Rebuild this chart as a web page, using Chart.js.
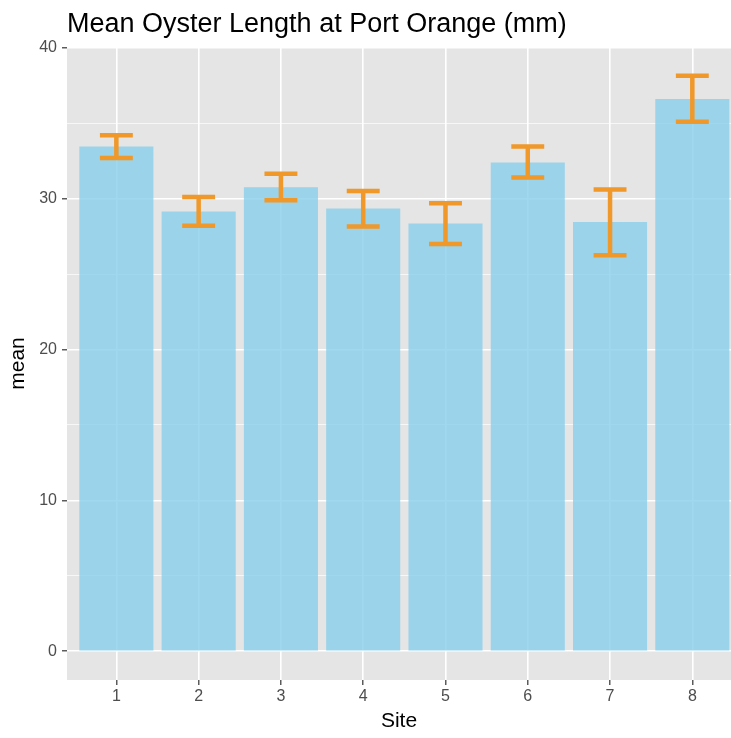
<!DOCTYPE html>
<html>
<head>
<meta charset="utf-8">
<script src="https://cdn.jsdelivr.net/npm/chart.js@4"></script>
<style>
	body { margin: 0; background: #fff; }
	#wrap { width: 731px; height: 738px; }
</style>
</head>
<body>
<div id="wrap"><canvas id="myChart"></canvas></div>
<script>
const sites = [1, 2, 3, 4, 5, 6, 7, 8];
const means = [33.45, 29.15, 30.75, 29.35, 28.35, 32.4, 28.45, 36.6];
const lower = [32.7, 28.2, 29.9, 28.15, 27.0, 31.4, 26.25, 35.1];
const upper = [34.2, 30.1, 31.65, 30.5, 29.7, 33.45, 30.6, 38.15];
const yTicks = [0, 5, 10, 15, 20, 25, 30, 35, 40];
const titleText = "Mean Oyster Length at Port Orange (mm)";

const font = "'Liberation Sans', Arial, sans-serif";
const ctx = document.getElementById("myChart");

// grey panel behind grid and bars, ggplot style
const panelBg = {
	id: "panelBg",
	beforeDraw: (chart) => {
		const a = chart.chartArea;
		const c = chart.ctx;
		c.save();
		c.fillStyle = "#E5E5E5";
		c.fillRect(a.left, a.top, a.right - a.left, a.bottom - a.top);
		c.restore();
	},
};

const errorBars = {
	id: "errorBars",
	afterDatasetsDraw: (chart) => {
		const x = chart.scales.x;
		const y = chart.scales.y;
		const c = chart.ctx;
		const half = x.getPixelForValue(1.2) - x.getPixelForValue(1);
		c.save();
		c.strokeStyle = "#F0982A";
		c.lineWidth = 4.5;
		sites.forEach((s, i) => {
			const px = x.getPixelForValue(s);
			const lo = y.getPixelForValue(lower[i]);
			const hi = y.getPixelForValue(upper[i]);
			c.beginPath();
			c.moveTo(px, lo);
			c.lineTo(px, hi);
			c.moveTo(px - half, lo);
			c.lineTo(px + half, lo);
			c.moveTo(px - half, hi);
			c.lineTo(px + half, hi);
			c.stroke();
		});
		c.restore();
	},
};

const plotTitle = {
	id: "plotTitle",
	afterDraw: (chart) => {
		const c = chart.ctx;
		c.save();
		c.fillStyle = "#000";
		c.font = "27px " + font;
		c.textBaseline = "alphabetic";
		c.textAlign = "left";
		c.fillText(titleText, chart.chartArea.left, 32);
		c.restore();
	},
};

const myChart = new Chart(ctx, {
	type: "bar",
	data: {
		datasets: [
			{
				label: "mean",
				data: sites.map((s, i) => ({ x: s, y: means[i] })),
				backgroundColor: "rgba(135, 206, 235, 0.8)",
				borderWidth: 0,
				barPercentage: 0.9,
				categoryPercentage: 1,
			},
		],
	},
	options: {
		responsive: true,
		maintainAspectRatio: false,
		animation: false,
		layout: { padding: { top: 47, left: 0, right: 0, bottom: 0 } },
		plugins: {
			legend: { display: false },
			tooltip: { enabled: false },
		},
		scales: {
			x: {
				type: "linear",
				min: 0.4,
				max: 8.47,
				offset: false,
				afterBuildTicks: (scale) => {
					scale.ticks = sites.map((v) => ({ value: v }));
				},
				afterFit: (scale) => {
					scale.height = 58;
				},
				border: { display: false },
				grid: {
					offset: false,
					color: "#FFFFFF",
					lineWidth: 1.6,
					drawTicks: true,
					tickLength: 5,
					tickColor: "#333333",
					tickWidth: 1.2,
				},
				ticks: {
					color: "#4D4D4D",
					font: { family: font, size: 16 },
					padding: 2,
					maxRotation: 0,
					callback: (v) => v,
				},
				title: {
					display: true,
					text: "Site",
					color: "#000",
					font: { family: font, size: 21 },
					padding: { top: 0, bottom: 4 },
				},
			},
			y: {
				min: -1.907,
				max: 40.05,
				afterBuildTicks: (scale) => {
					scale.ticks = yTicks.map((v) => ({ value: v }));
				},
				afterFit: (scale) => {
					scale.width = 67;
				},
				border: { display: false },
				grid: {
					color: "#FFFFFF",
					lineWidth: (c) => (c.tick && c.tick.value % 10 === 0 ? 1.6 : 0.7),
					drawTicks: true,
					tickLength: 5,
					tickColor: (c) => (c.tick && c.tick.value % 10 === 0 ? "#333333" : "rgba(0,0,0,0)"),
					tickWidth: 1.2,
				},
				ticks: {
					color: "#4D4D4D",
					font: { family: font, size: 16 },
					padding: 5,
					callback: (v) => (v % 10 === 0 ? v : ""),
				},
				title: {
					display: true,
					text: "mean",
					color: "#000",
					font: { family: font, size: 21 },
					padding: { top: 6, bottom: 0 },
				},
			},
		},
	},
	plugins: [panelBg, errorBars, plotTitle],
});
</script>
</body>
</html>
